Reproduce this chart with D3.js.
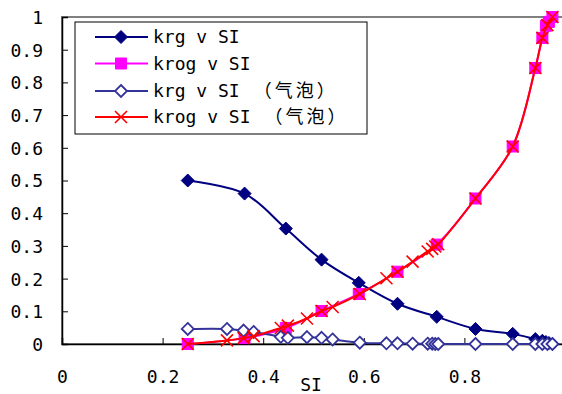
<!DOCTYPE html>
<html><head><meta charset="utf-8">
<script src="https://cdn.jsdelivr.net/npm/d3@7"></script>
<style>
html,body{margin:0;padding:0;background:#fff;}
svg{display:block;}
</style></head>
<body>
<svg id="c" width="562" height="394"></svg>
<script>
// ---- data ----
const slMain   = [0.25, 0.363, 0.445, 0.516, 0.59, 0.667, 0.745, 0.822, 0.896, 0.941, 0.955, 0.962, 0.968, 0.975];
const krgMain  = [0.5, 0.46, 0.353, 0.258, 0.187, 0.123, 0.083, 0.046, 0.031, 0.015, 0.010, 0.006, 0.003, 0.0];
const krogMain = [0.0, 0.018, 0.049, 0.101, 0.153, 0.221, 0.304, 0.445, 0.604, 0.844, 0.936, 0.973, 0.985, 1.0];

const slBub   = [0.25, 0.328, 0.361, 0.381, 0.435, 0.449, 0.487, 0.516, 0.538, 0.592, 0.645, 0.667, 0.697, 0.727, 0.736, 0.742, 0.748, 0.822, 0.896, 0.941, 0.955, 0.965, 0.975];
const krgBub  = [0.046, 0.046, 0.041, 0.037, 0.022, 0.019, 0.021, 0.019, 0.014, 0.004, 0.002, 0.002, 0.001, 0.001, 0.001, 0.0, 0.0, 0.0, 0.0, 0.0, 0.0, 0.0, 0.0];
const krogBub = [0.0, 0.011, 0.018, 0.024, 0.049, 0.056, 0.078, 0.101, 0.113, 0.153, 0.201, 0.221, 0.252, 0.283, 0.291, 0.298, 0.305, 0.445, 0.604, 0.844, 0.936, 0.975, 1.0];

const xTicks = [0, 0.2, 0.4, 0.6, 0.8];
const yTicks = [0, 0.1, 0.2, 0.3, 0.4, 0.5, 0.6, 0.7, 0.8, 0.9, 1];
const seriesNames = ["krg v SI", "krog v SI", "krg v SI", "krog v SI"];
const bubbleTag = "（气泡）";
const xTitle = "SI";

// ---- layout ----
const svg = d3.select("#c");
const X0 = 62, X1 = 565, Y0 = 344, Y1 = 17;
const x = d3.scaleLinear().domain([0, 1]).range([X0, X1]);
const y = d3.scaleLinear().domain([0, 1]).range([Y0, Y1]);
const FONT = "'DejaVu Sans Mono', 'Noto Sans CJK SC', monospace";

// plot area border
svg.append("rect").attr("x", X0).attr("y", Y1).attr("width", X1 - X0).attr("height", Y0 - Y1)
  .attr("fill", "none").attr("stroke", "#808080").attr("stroke-width", 2);

// axes
const yAxis = d3.axisLeft(y).tickValues(yTicks).tickSize(-6).tickPadding(0).tickFormat(d3.format(""));
const gy = svg.append("g").attr("transform", `translate(${X0},0)`).call(yAxis);
gy.select(".domain").attr("stroke", "#000").attr("stroke-width", 1.5);
gy.selectAll(".tick line").attr("stroke", "#000");
gy.selectAll(".tick text").attr("x", -19).attr("dy", "0.36em")
  .style("font-family", FONT).style("font-size", "18px").attr("fill", "#000");

const xAxis = d3.axisBottom(x).tickValues(xTicks).tickSize(-6).tickPadding(0).tickFormat(d3.format(""));
const gx = svg.append("g").attr("transform", `translate(0,${Y0})`).call(xAxis);
gx.select(".domain").attr("stroke", "#000").attr("stroke-width", 1.5);
gx.selectAll(".tick line").attr("stroke", "#000");
gx.selectAll(".tick text").attr("y", 39).attr("dy", 0)
  .style("font-family", FONT).style("font-size", "18px").attr("fill", "#000");

svg.append("text").attr("x", 311).attr("y", 391).attr("text-anchor", "middle")
  .style("font-family", FONT).style("font-size", "18px").text(xTitle);

// markers
function diamond(s) { return `M0,${-s}L${s},0L0,${s}L${-s},0Z`; }
function square(s) { return `M${-s},${-s}H${s}V${s}H${-s}Z`; }
function cross(s) { return `M${-s},${-s}L${s},${s}M${s},${-s}L${-s},${s}`; }

const series = [
  {sl: slMain, v: krgMain,  line: "#000080", lw: 2, marker: diamond(6.5), mfill: "#000080", mstroke: "#000080", msw: 1},
  {sl: slMain, v: krogMain, line: "#FF00FF", lw: 2, marker: square(5.5),  mfill: "#FF00FF", mstroke: "#FF00FF", msw: 1},
  {sl: slBub,  v: krgBub,   line: "#333399", lw: 2, marker: diamond(6),   mfill: "#FFFFFF", mstroke: "#333399", msw: 1.8},
  {sl: slBub,  v: krogBub,  line: "#FF0000", lw: 2, marker: cross(6),     mfill: "none",    mstroke: "#FF0000", msw: 1.6}
];

svg.append("clipPath").attr("id", "pc").append("rect")
  .attr("x", X0 - 10).attr("y", Y1 - 10).attr("width", X1 - X0 + 20).attr("height", Y0 - Y1 + 20);

const lineGen = d3.line().curve(d3.curveCatmullRom.alpha(0.5)).x(d => x(d[0])).y(d => y(d[1]));
const plot = svg.append("g").attr("clip-path", "url(#pc)");
series.forEach(s => {
  const pts = s.sl.map((v, i) => [v, s.v[i]]);
  const g = plot.append("g");
  g.append("path").attr("d", lineGen(pts)).attr("fill", "none").attr("stroke", s.line).attr("stroke-width", s.lw);
  g.selectAll("path.m").data(pts).join("path").attr("class", "m")
    .attr("transform", d => `translate(${x(d[0])},${y(d[1])})`)
    .attr("d", s.marker).attr("fill", s.mfill).attr("stroke", s.mstroke).attr("stroke-width", s.msw);
});

// legend
const LX = 75, LY = 22, LW = 292, LH = 112;
const lg = svg.append("g");
lg.append("rect").attr("x", LX).attr("y", LY).attr("width", LW).attr("height", LH)
  .attr("fill", "#fff").attr("stroke", "#000").attr("stroke-width", 1);
const rowY = [37, 63.5, 91, 117];
series.forEach((s, i) => {
  const ry = rowY[i];
  lg.append("line").attr("x1", 95).attr("x2", 148).attr("y1", ry).attr("y2", ry)
    .attr("stroke", s.line).attr("stroke-width", s.lw);
  lg.append("path").attr("transform", `translate(121,${ry})`).attr("d", s.marker)
    .attr("fill", s.mfill).attr("stroke", s.mstroke).attr("stroke-width", s.msw);
  const t = lg.append("text").attr("x", 153).attr("y", ry).attr("dy", "0.36em")
    .style("font-family", FONT).style("font-size", "18px").attr("fill", "#000");
  t.append("tspan").text(seriesNames[i]);
  if (i >= 2) t.append("tspan").attr("dx", 14).style("font-size", "18px")
    .style("letter-spacing", "3px").style("font-family", "'Noto Sans CJK SC'").text(bubbleTag);
});
</script>
</body></html>
